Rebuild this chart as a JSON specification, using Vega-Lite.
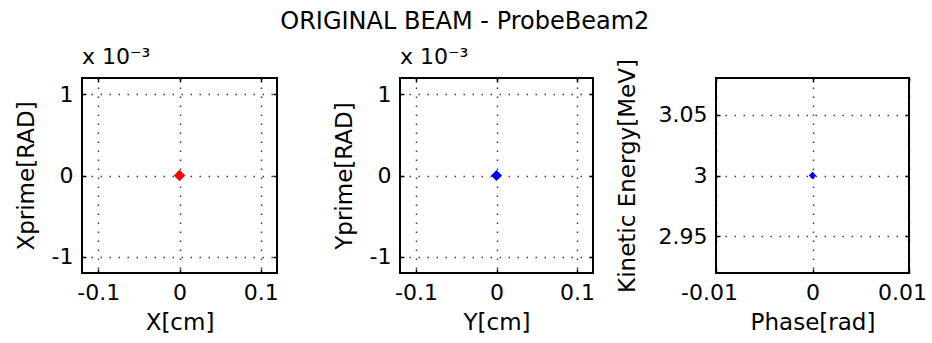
{
  "$schema": "https://vega.github.io/schema/vega-lite/v6.json",
  "background": "white",
  "padding": {"left": 14, "top": 10, "right": 5, "bottom": 3},
  "title": {"text": "ORIGINAL BEAM - ProbeBeam2", "font": "DejaVu Sans", "fontSize": 24, "fontWeight": "normal", "color": "#000", "anchor": "middle", "offset": 11, "dx": -6},
  "datasets": {"beam": [{"x": 0, "xp": 0, "y": 0, "yp": 0, "phase": 0, "ke": 3}]},
  "bounds": "flush",
  "spacing": 123,
  "hconcat": [
    {
      "width": 195, "height": 195,
      "title": {"text": "x 10⁻³", "anchor": "start", "frame": "group", "fontSize": 22, "fontWeight": "normal", "font": "DejaVu Sans", "color": "#000", "offset": 8},
      "data": {"name": "beam"},
      "layer": [
        {
          "mark": {"type": "point", "shape": "diamond", "filled": true, "size": 130, "color": "#ff0000", "opacity": 1},
          "encoding": {
            "x": {"field": "x", "type": "quantitative", "scale": {"domain": [-0.12, 0.12], "nice": false, "zero": false},
                  "axis": {"orient": "bottom", "title": "X[cm]", "values": [-0.1, 0, 0.1], "labelExpr": "toString(datum.value)"}},
            "y": {"field": "xp", "type": "quantitative", "scale": {"domain": [-0.0012, 0.0012], "nice": false, "zero": false},
                  "axis": {"orient": "left", "title": "Xprime[RAD]", "titlePadding": 13, "values": [-0.001, 0, 0.001], "labelExpr": "toString(round(datum.value*1000))"}}
          }
        },
        {
          "mark": {"type": "point", "opacity": 0},
          "encoding": {
            "x": {"field": "x", "type": "quantitative", "axis": {"orient": "top", "title": null, "labels": false, "grid": false, "values": [-0.1, 0, 0.1]}},
            "y": {"field": "xp", "type": "quantitative", "axis": {"orient": "right", "title": null, "labels": false, "grid": false, "values": [-0.001, 0, 0.001]}}
          }
        }
      ],
      "resolve": {"axis": {"x": "independent", "y": "independent"}}
    },
    {
      "width": 193, "height": 195,
      "title": {"text": "x 10⁻³", "anchor": "start", "frame": "group", "fontSize": 22, "fontWeight": "normal", "font": "DejaVu Sans", "color": "#000", "offset": 8},
      "data": {"name": "beam"},
      "layer": [
        {
          "mark": {"type": "point", "shape": "diamond", "filled": true, "size": 120, "color": "#0000ff", "opacity": 1},
          "encoding": {
            "x": {"field": "y", "type": "quantitative", "scale": {"domain": [-0.12, 0.12], "nice": false, "zero": false},
                  "axis": {"orient": "bottom", "title": "Y[cm]", "values": [-0.1, 0, 0.1], "labelExpr": "toString(datum.value)"}},
            "y": {"field": "yp", "type": "quantitative", "scale": {"domain": [-0.0012, 0.0012], "nice": false, "zero": false},
                  "axis": {"orient": "left", "title": "Yprime[RAD]", "titlePadding": 13, "values": [-0.001, 0, 0.001], "labelExpr": "toString(round(datum.value*1000))"}}
          }
        },
        {
          "mark": {"type": "point", "opacity": 0},
          "encoding": {
            "x": {"field": "y", "type": "quantitative", "axis": {"orient": "top", "title": null, "labels": false, "grid": false, "values": [-0.1, 0, 0.1]}},
            "y": {"field": "yp", "type": "quantitative", "axis": {"orient": "right", "title": null, "labels": false, "grid": false, "values": [-0.001, 0, 0.001]}}
          }
        }
      ],
      "resolve": {"axis": {"x": "independent", "y": "independent"}}
    },
    {
      "width": 193, "height": 195,
      "data": {"name": "beam"},
      "layer": [
        {
          "mark": {"type": "point", "shape": "diamond", "filled": true, "size": 55, "color": "#0000ff", "opacity": 1},
          "encoding": {
            "x": {"field": "phase", "type": "quantitative", "scale": {"domain": [-0.01, 0.01], "nice": false, "zero": false},
                  "axis": {"orient": "bottom", "title": "Phase[rad]", "values": [-0.01, 0, 0.01], "labelExpr": "toString(datum.value)",
                           "labelOffset": {"condition": {"test": "datum.value != 0", "value": -7}, "value": 0}}},
            "y": {"field": "ke", "type": "quantitative", "scale": {"domain": [2.92, 3.08], "nice": false, "zero": false},
                  "axis": {"orient": "left", "title": "Kinetic Energy[MeV]", "titlePadding": 19, "values": [2.95, 3, 3.05], "labelExpr": "toString(datum.value)"}}
          }
        },
        {
          "mark": {"type": "point", "opacity": 0},
          "encoding": {
            "x": {"field": "phase", "type": "quantitative", "axis": {"orient": "top", "title": null, "labels": false, "grid": false, "values": [-0.01, 0, 0.01]}},
            "y": {"field": "ke", "type": "quantitative", "axis": {"orient": "right", "title": null, "labels": false, "grid": false, "values": [2.95, 3, 3.05]}}
          }
        }
      ],
      "resolve": {"axis": {"x": "independent", "y": "independent"}}
    }
  ],
  "config": {
    "font": "DejaVu Sans",
    "view": {"stroke": "#000", "strokeWidth": 2},
    "axis": {
      "labelFont": "DejaVu Sans", "labelFontSize": 22, "labelColor": "#000", "labelPadding": 13,
      "titleFont": "DejaVu Sans", "titleFontSize": 23, "titleFontWeight": "normal", "titleColor": "#000", "titlePadding": 8,
      "domain": false, "ticks": true, "tickColor": "#000", "tickSize": -4, "tickWidth": 1.5,
      "grid": true, "gridColor": "#000", "gridOpacity": 0.75, "gridDash": [1.5, 7.5], "gridWidth": 1.5,
      "labelFlush": false, "labelOverlap": false
    }
  }
}
